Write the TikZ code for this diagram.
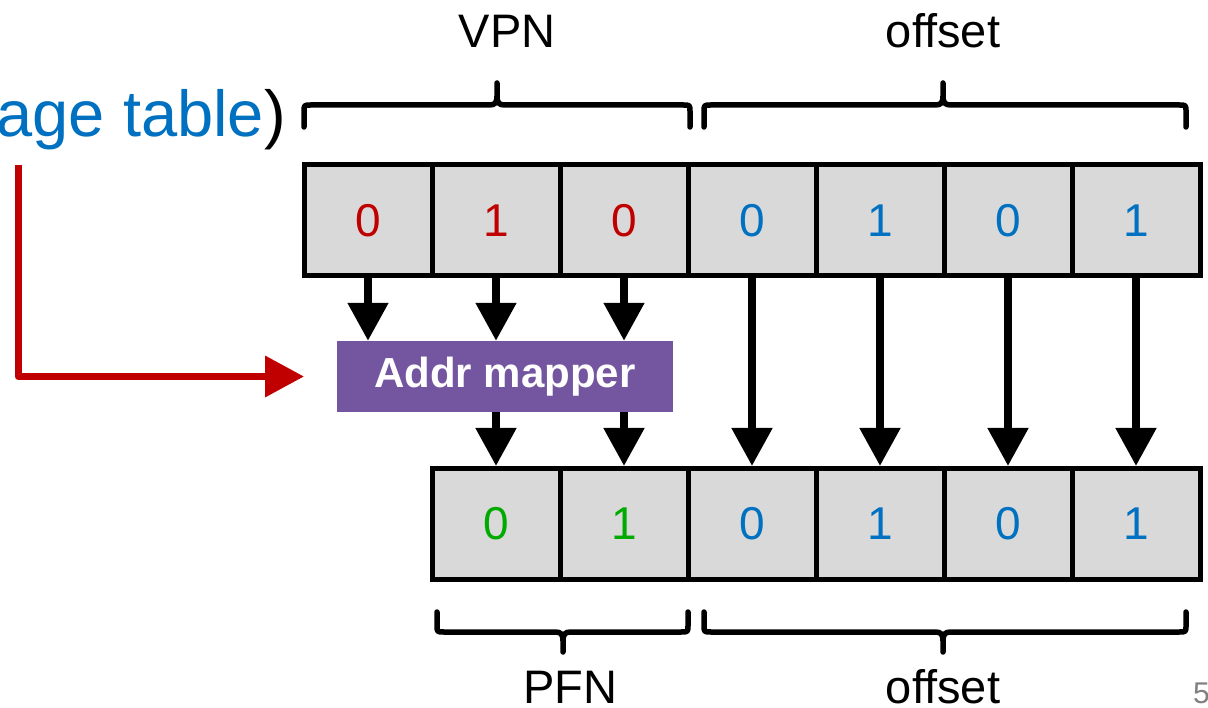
\documentclass[tikz,border=0pt]{standalone}
\usepackage{fontspec}
\setmainfont{Liberation Sans}
\usetikzlibrary{arrows.meta,calc}
\definecolor{cellgray}{RGB}{217,217,217}
\definecolor{vred}{RGB}{192,0,0}
\definecolor{oblue}{RGB}{0,112,192}
\definecolor{pgreen}{RGB}{0,170,0}
\definecolor{mpurple}{RGB}{115,85,160}
\definecolor{pagegray}{RGB}{128,128,128}
\tikzset{
  cell/.style={draw=black, line width=5pt, fill=cellgray, minimum width=128pt, minimum height=111pt, inner sep=0pt, font=\fontsize{46}{50}\selectfont},
  vbit/.style={cell, text=vred},
  obit/.style={cell, text=oblue},
  pbit/.style={cell, text=pgreen},
  mapperbox/.style={fill=mpurple, minimum width=336pt, minimum height=71pt, inner sep=0pt, text=white, font=\fontsize{42}{46}\selectfont\bfseries},
  arr/.style={line width=8pt, -{Triangle[length=38pt,width=39pt]}},
  redarr/.style={draw=vred, line width=7pt, line join=round, -{Triangle[length=39pt,width=40pt]}},
  brace/.style={draw=black, line width=5.5pt, line cap=round, line join=round},
  lbl/.style={font=\fontsize{47}{52}\selectfont, inner sep=0pt, anchor=base},
}
\newcommand{\mybrace}[6]{%
  \draw[brace] (#1,{#4+(#5)*#6}) -- (#1,{#4+(#5)*7}) .. controls (#1,#4) .. ({#1+7},#4)
    -- ({#3-8},#4) .. controls ({#3-2},#4) and (#3,{#4-(#5)*2}) .. (#3,{#4-(#5)*9})
    -- (#3,{#4-(#5)*#6}) -- (#3,{#4-(#5)*9})
    .. controls (#3,{#4-(#5)*2}) and ({#3+2},#4) .. ({#3+8},#4)
    -- ({#2-7},#4) .. controls (#2,#4) .. (#2,{#4+(#5)*7}) -- (#2,{#4+(#5)*#6});}
\begin{document}
\begin{tikzpicture}[x=1pt,y=-1pt]
\useasboundingbox (0,0) rectangle (1208,708);
% top row
\node[vbit] (t1) at (368,220.5) {0};
\node[vbit] (t2) at (496,220.5) {1};
\node[vbit] (t3) at (624,220.5) {0};
\node[obit] (t4) at (752,220.5) {0};
\node[obit] (t5) at (880,220.5) {1};
\node[obit] (t6) at (1008,220.5) {0};
\node[obit] (t7) at (1136,220.5) {1};
% bottom row
\node[pbit] (b1) at (496,524) {0};
\node[pbit] (b2) at (624,524) {1};
\node[obit] (b3) at (752,524) {0};
\node[obit] (b4) at (880,524) {1};
\node[obit] (b5) at (1008,524) {0};
\node[obit] (b6) at (1136,524) {1};
% mapper
\node[mapperbox] (mapper) at (505,376.5) {Addr mapper};
% arrows
\draw[arr] (t1.south) -- (t1.south |- mapper.north);
\draw[arr] (t2.south) -- (t2.south |- mapper.north);
\draw[arr] (t3.south) -- (t3.south |- mapper.north);
\draw[arr] (b1.north |- mapper.south) -- (b1.north);
\draw[arr] (b2.north |- mapper.south) -- (b2.north);
\draw[arr] (t4.south) -- (b3.north);
\draw[arr] (t5.south) -- (b4.north);
\draw[arr] (t6.south) -- (b5.north);
\draw[arr] (t7.south) -- (b6.north);
% red arrow
\coordinate (rs) at (18,165);
\coordinate (re) at (304,376.5);
\draw[redarr] (rs) |- (re);
% text
\node[font=\fontsize{65}{70}\selectfont, inner sep=0pt, anchor=base east] (pt) at (286,137) {\textcolor{oblue}{age table})};
\node[lbl] (vpn) at (507,48) {VPN};
\node[lbl] (off1) at (943,48) {offset};
\node[lbl] (pfn) at (570,703) {PFN};
\node[lbl] (off2) at (943,703) {offset};
\node[font=\fontsize{30}{34}\selectfont, text=pagegray, inner sep=0pt, anchor=base west] (pg) at (1193,703) {5};
% braces
\mybrace{304}{690}{497}{105}{1}{22}
\mybrace{704}{1186}{943}{105}{1}{22}
\mybrace{437}{688}{563}{632}{-1}{20}
\mybrace{704}{1186}{943}{632}{-1}{20}
\end{tikzpicture}
\end{document}
